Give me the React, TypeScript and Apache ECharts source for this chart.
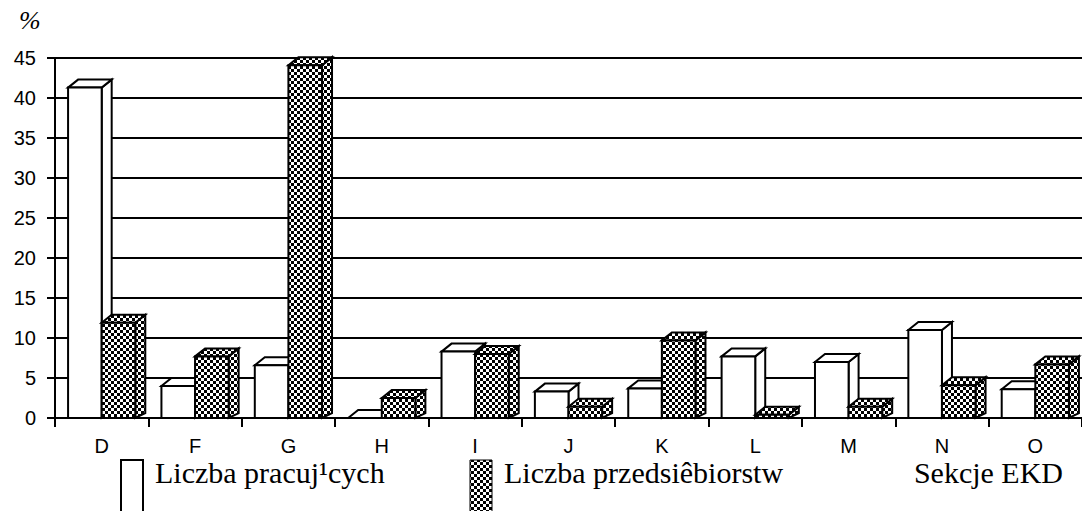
import React, { useEffect, useRef } from "react";
import * as echarts from "echarts";

const categories = ["D", "F", "G", "H", "I", "J", "K", "L", "M", "N", "O"];
const pracujacych = [41.3, 4.0, 6.6, 0.0, 8.3, 3.3, 3.7, 7.7, 7.0, 11.0, 3.6];
const przedsiebiorstw = [11.9, 7.7, 44.1, 2.5, 8.0, 1.4, 9.7, 0.4, 1.4, 4.1, 6.7];
const yTicks = [0, 45, 5];
const legendLabels = ["Liczba pracuj\u00B9cych", "Liczba przedsi\u00EAbiorstw"];
const axisName = "Sekcje EKD";
const unitLabel = "%";

const SANS = "'Liberation Sans'";
const SERIF = "'Liberation Serif'";

function makePattern(): HTMLCanvasElement {
  const c = document.createElement("canvas");
  c.width = 6;
  c.height = 6;
  const ctx = c.getContext("2d")!;
  ctx.fillStyle = "#fff";
  ctx.fillRect(0, 0, 6, 6);
  ctx.fillStyle = "#000";
  ctx.fillRect(0, 0, 3, 3);
  ctx.fillRect(3, 3, 3, 3);
  return c;
}

export default function App() {
  const ref = useRef<HTMLDivElement>(null);
  useEffect(() => {
    if (!ref.current) return;
    const chart = echarts.init(ref.current, null, { renderer: "svg" });
    const pat = { image: makePattern(), repeat: "repeat" };
    const data = categories.map((c, i) => [i, pracujacych[i], przedsiebiorstw[i]]);
    const DX = 10;
    const DY = 8;
    const option: any = {
      animation: false,
      backgroundColor: "#fff",
      grid: { left: 55, top: 58, width: 1040, height: 360 },
      xAxis: {
        type: "category",
        data: categories,
        boundaryGap: true,
        axisLine: { lineStyle: { color: "#000", width: 2 } },
        axisTick: { show: true, interval: 0, length: 9, lineStyle: { color: "#000", width: 2 } },
        axisLabel: { color: "#000", fontSize: 20, fontFamily: SANS, margin: 18, interval: 0 },
        splitLine: { show: false },
      },
      yAxis: {
        type: "value",
        min: yTicks[0],
        max: yTicks[1],
        interval: yTicks[2],
        axisLine: { show: true, lineStyle: { color: "#000", width: 2 } },
        axisTick: { show: true, length: 8, lineStyle: { color: "#000", width: 2 } },
        axisLabel: { color: "#000", fontSize: 20, fontFamily: SANS, margin: 19 },
        splitLine: { show: true, lineStyle: { color: "#000", width: 2 } },
      },
      series: [
        {
          type: "custom",
          data,
          encode: { x: 0, y: [1, 2] },
          renderItem: (params: any, api: any) => {
            const cat = api.value(0);
            const base = api.coord([cat, 0]);
            const band = api.size([1, 0])[0];
            const bw = band * 0.36;
            const cx = base[0];
            const y0 = base[1];
            const children: any[] = [];
            const fills = [
              { dim: 1, fill: "#fff" },
              { dim: 2, fill: pat },
            ];
            fills.forEach((f, k) => {
              const v = api.value(f.dim);
              const yTop = api.coord([cat, v])[1];
              const x1 = cx - bw + k * bw;
              const x2 = x1 + bw;
              const st = { fill: f.fill, stroke: "#000", lineWidth: 2, lineJoin: "miter" };
              children.push({
                type: "polygon",
                shape: { points: [[x2, yTop], [x2 + DX, yTop - DY], [x2 + DX, y0 - DY * 0.6], [x2, y0]] },
                style: st,
              });
              children.push({
                type: "polygon",
                shape: { points: [[x1, yTop], [x1 + DX, yTop - DY], [x2 + DX, yTop - DY], [x2, yTop]] },
                style: st,
              });
              if (y0 - yTop > 0.5) {
                children.push({
                  type: "rect",
                  shape: { x: x1, y: yTop, width: bw, height: y0 - yTop },
                  style: st,
                });
              }
            });
            return { type: "group", children };
          },
        },
      ],
      graphic: [
        {
          type: "text",
          left: 19,
          top: 7,
          style: { text: unitLabel, fontSize: 26, fontStyle: "italic", fontFamily: SERIF, fill: "#000" },
        },
        {
          type: "text",
          right: 19,
          top: 457,
          style: { text: axisName, fontSize: 30, fontFamily: SERIF, fill: "#000" },
        },
        {
          type: "rect",
          shape: { x: 121, y: 460, width: 22, height: 60 },
          style: { fill: "#fff", stroke: "#000", lineWidth: 2 },
        },
        {
          type: "text",
          left: 155,
          top: 457,
          style: { text: legendLabels[0], fontSize: 30, fontFamily: SERIF, fill: "#000" },
        },
        {
          type: "rect",
          shape: { x: 470, y: 460, width: 22, height: 60 },
          style: { fill: pat, stroke: "#000", lineWidth: 1 },
        },
        {
          type: "text",
          left: 504,
          top: 457,
          style: { text: legendLabels[1], fontSize: 30, fontFamily: SERIF, fill: "#000" },
        },
      ],
    };
    chart.setOption(option);
    return () => chart.dispose();
  }, []);
  return (
    <div
      ref={ref}
      style={{ position: "absolute", left: 0, top: 0, width: 1082, height: 511, background: "#fff" }}
    />
  );
}
